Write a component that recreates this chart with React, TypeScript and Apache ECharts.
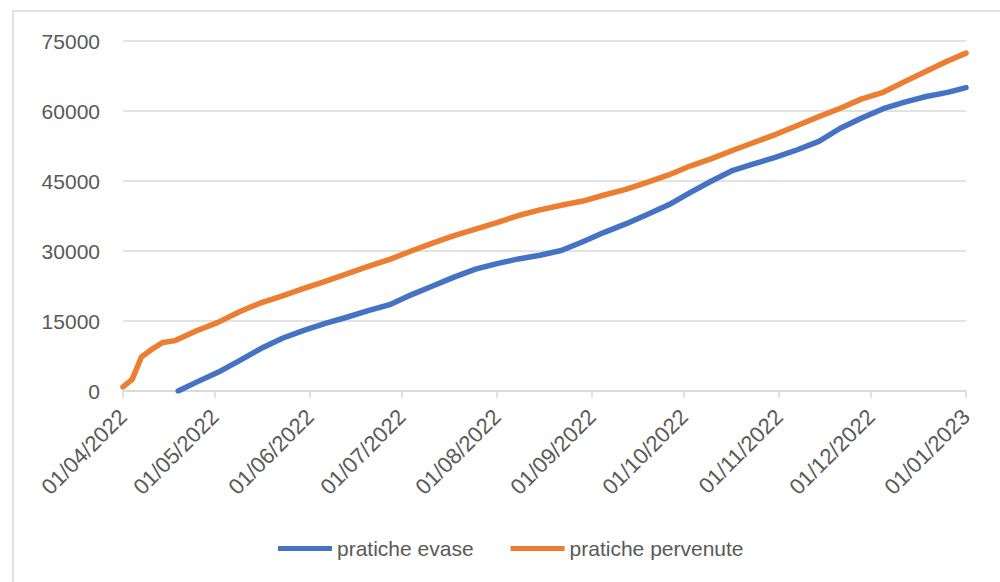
import React, { useEffect, useRef } from "react";
import * as echarts from "echarts";

const seriesNames = ["pratiche evase", "pratiche pervenute"];

const evaseDates = [
  "2022-04-19", "2022-04-25", "2022-05-02", "2022-05-09", "2022-05-16", "2022-05-23", "2022-05-30",
  "2022-06-06", "2022-06-13", "2022-06-20", "2022-06-27", "2022-07-04", "2022-07-11", "2022-07-18",
  "2022-07-25", "2022-08-01", "2022-08-08", "2022-08-15", "2022-08-22", "2022-08-29", "2022-09-05",
  "2022-09-12", "2022-09-19", "2022-09-26", "2022-10-03", "2022-10-10", "2022-10-17", "2022-10-24",
  "2022-10-31", "2022-11-07", "2022-11-14", "2022-11-21", "2022-11-28", "2022-12-05", "2022-12-12",
  "2022-12-19", "2022-12-26", "2023-01-01",
];
const evaseValues = [
  0, 1900, 4000, 6500, 9100, 11300, 13000,
  14500, 15800, 17200, 18500, 20600, 22500, 24400,
  26100, 27300, 28300, 29100, 30100, 32000, 34000,
  35800, 37800, 39900, 42500, 45000, 47300, 48700,
  50100, 51700, 53500, 56300, 58500, 60500, 61900,
  63100, 64000, 65000,
];

const pervenuteDates = [
  "2022-04-01", "2022-04-04", "2022-04-07", "2022-04-11", "2022-04-14", "2022-04-18", "2022-04-25",
  "2022-05-02", "2022-05-09", "2022-05-16", "2022-05-23", "2022-05-30", "2022-06-06", "2022-06-13",
  "2022-06-20", "2022-06-27", "2022-07-04", "2022-07-11", "2022-07-18", "2022-07-25", "2022-08-01",
  "2022-08-08", "2022-08-15", "2022-08-22", "2022-08-29", "2022-09-05", "2022-09-12", "2022-09-19",
  "2022-09-26", "2022-10-03", "2022-10-10", "2022-10-17", "2022-10-24", "2022-10-31", "2022-11-07",
  "2022-11-14", "2022-11-21", "2022-11-28", "2022-12-05", "2022-12-12", "2022-12-19", "2022-12-26",
  "2023-01-01",
];
const pervenuteValues = [
  900, 2500, 7300, 9200, 10400, 10800, 12900,
  14700, 17000, 18900, 20400, 22000, 23500, 25100,
  26700, 28200, 30000, 31700, 33300, 34700, 36100,
  37600, 38800, 39800, 40700, 42000, 43200, 44700,
  46300, 48200, 49800, 51600, 53300, 55000, 56900,
  58800, 60600, 62600, 64000, 66300, 68500, 70700,
  72400,
];

const axisStart = "2022-04-01";
const axisEnd = "2023-01-01";
const yTicks = { min: 0, max: 75000, interval: 15000 };

const FONT = "Liberation Sans";
const TEXT_COLOR = "#595959";
const GRID_COLOR = "#d9d9d9";

export default function App() {
  const ref = useRef<HTMLDivElement>(null);

  useEffect(() => {
    if (!ref.current) return;
    const chart = echarts.init(ref.current, null, { renderer: "svg" });
    const fmt = (v: number) => echarts.time.format(v, "{dd}/{MM}/{yyyy}", false);
    chart.setOption({
      animation: false,
      backgroundColor: "#ffffff",
      textStyle: { fontFamily: FONT },
      graphic: [
        {
          type: "rect",
          shape: { x: 13, y: 11, width: 1010, height: 600 },
          style: { fill: "none", stroke: GRID_COLOR, lineWidth: 1.5 },
          silent: true,
        },
      ],
      grid: { left: 123, right: 34, top: 41, bottom: 191, containLabel: false },
      legend: {
        left: 273,
        top: 533,
        icon: "rect",
        itemWidth: 54,
        itemHeight: 5,
        itemGap: 37,
        textStyle: { fontFamily: FONT, fontSize: 21, color: TEXT_COLOR },
        data: seriesNames,
      },
      xAxis: {
        type: "time",
        min: axisStart,
        max: axisEnd,
        minInterval: 28 * 86400000,
        maxInterval: 31 * 86400000,
        splitLine: { show: false },
        axisLine: { show: true, lineStyle: { color: GRID_COLOR, width: 1.5 } },
        axisTick: { show: true, length: 7, lineStyle: { color: GRID_COLOR, width: 1.5 } },
        axisLabel: {
          rotate: 45,
          margin: 22,
          fontFamily: FONT,
          fontSize: 22,
          color: TEXT_COLOR,
          showMinLabel: true,
          showMaxLabel: true,
          hideOverlap: false,
          formatter: (v: number) => fmt(v),
        },
      },
      yAxis: {
        type: "value",
        min: yTicks.min,
        max: yTicks.max,
        interval: yTicks.interval,
        axisLine: { show: false },
        axisTick: { show: false },
        splitLine: { lineStyle: { color: GRID_COLOR, width: 1.5 } },
        axisLabel: {
          margin: 23,
          fontFamily: FONT,
          fontSize: 21,
          color: TEXT_COLOR,
          formatter: (v: number) => String(v),
        },
      },
      series: [
        {
          name: seriesNames[0],
          type: "line",
          showSymbol: false,
          symbol: "none",
          color: "#4472C4",
          lineStyle: { width: 5.5, color: "#4472C4", cap: "round", join: "round" },
          data: evaseDates.map((d, i) => [d, evaseValues[i]]),
        },
        {
          name: seriesNames[1],
          type: "line",
          showSymbol: false,
          symbol: "none",
          color: "#ED7D31",
          lineStyle: { width: 5.5, color: "#ED7D31", cap: "round", join: "round" },
          data: pervenuteDates.map((d, i) => [d, pervenuteValues[i]]),
        },
      ],
    });
    return () => chart.dispose();
  }, []);

  return (
    <div
      ref={ref}
      style={{ position: "fixed", left: 0, top: 0, width: 1000, height: 582, background: "#fff" }}
    />
  );
}
